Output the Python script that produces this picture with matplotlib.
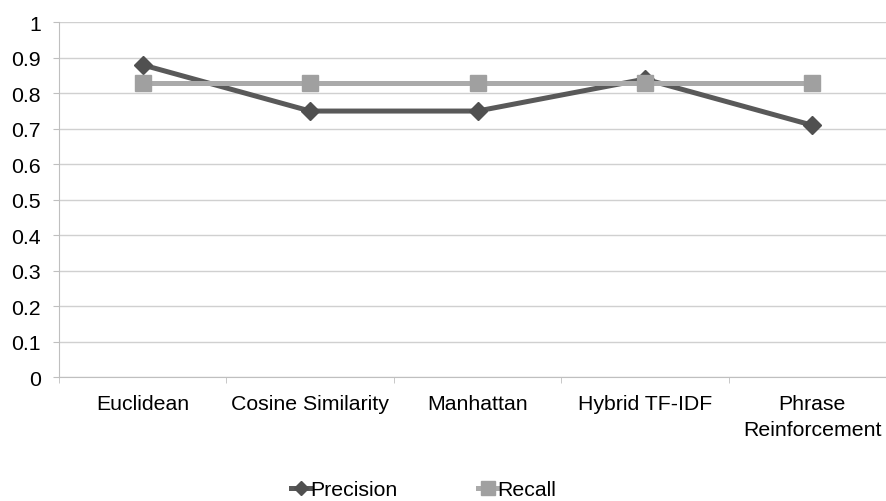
import matplotlib.pyplot as plt
import numpy as np
from matplotlib.ticker import FormatStrFormatter

methods = ["Euclidean", "Cosine Similarity", "Manhattan", "Hybrid TF-IDF",
           "Phrase\nReinforcement"]
precision = [0.88, 0.75, 0.75, 0.84, 0.71]
recall = [0.83, 0.83, 0.83, 0.83, 0.83]

plt.rcParams['font.family'] = ['Liberation Sans', 'DejaVu Sans']
fs = 15.3

fig = plt.figure(figsize=(8.86, 5.02), dpi=100)
ax = fig.add_axes([59 / 886, 1 - 378.3 / 502, (896 - 59) / 886, (378.3 - 23.3) / 502])

x = np.arange(len(methods))
ax.plot(x, precision, color='#595959', lw=3.6, marker='D', ms=9.5,
        mfc='#505050', mec='#505050', label='Precision', zorder=3)
ax.plot(x, recall, color='#aaaaaa', lw=3.6, marker='s', ms=12,
        mfc='#a0a0a0', mec='#a0a0a0', label='Recall', zorder=4)

ax.set_xlim(-0.5, len(methods) - 0.5)
ax.set_ylim(0, 1)
ax.set_yticks(np.arange(0, 1.01, 0.1))
ax.yaxis.set_major_formatter(FormatStrFormatter('%g'))
ax.grid(axis='y', color='#d0d0d0', lw=1)
ax.set_axisbelow(True)

ax.set_xticks(x)
ax.set_xticklabels(methods, fontsize=fs, linespacing=1.45)
ax.set_xticks(np.arange(-0.5, len(methods)), minor=True)
ax.tick_params(axis='x', which='major', length=0, pad=12)
ax.tick_params(axis='x', which='minor', length=4.5, color='#bfbfbf')
ax.tick_params(axis='y', length=4.5, color='#bfbfbf', labelsize=fs, pad=8.5)

for side in ['top', 'right']:
    ax.spines[side].set_visible(False)
ax.spines['left'].set_color('#bfbfbf')
ax.spines['bottom'].set_color('#bfbfbf')

fig.legend(loc='center', bbox_to_anchor=(0.478, 0.022), ncol=2, frameon=False,
           fontsize=fs, handlelength=0.9, handletextpad=0.0, columnspacing=3.8,
           markerscale=0.8)

fig.savefig('out.png', dpi=100)
